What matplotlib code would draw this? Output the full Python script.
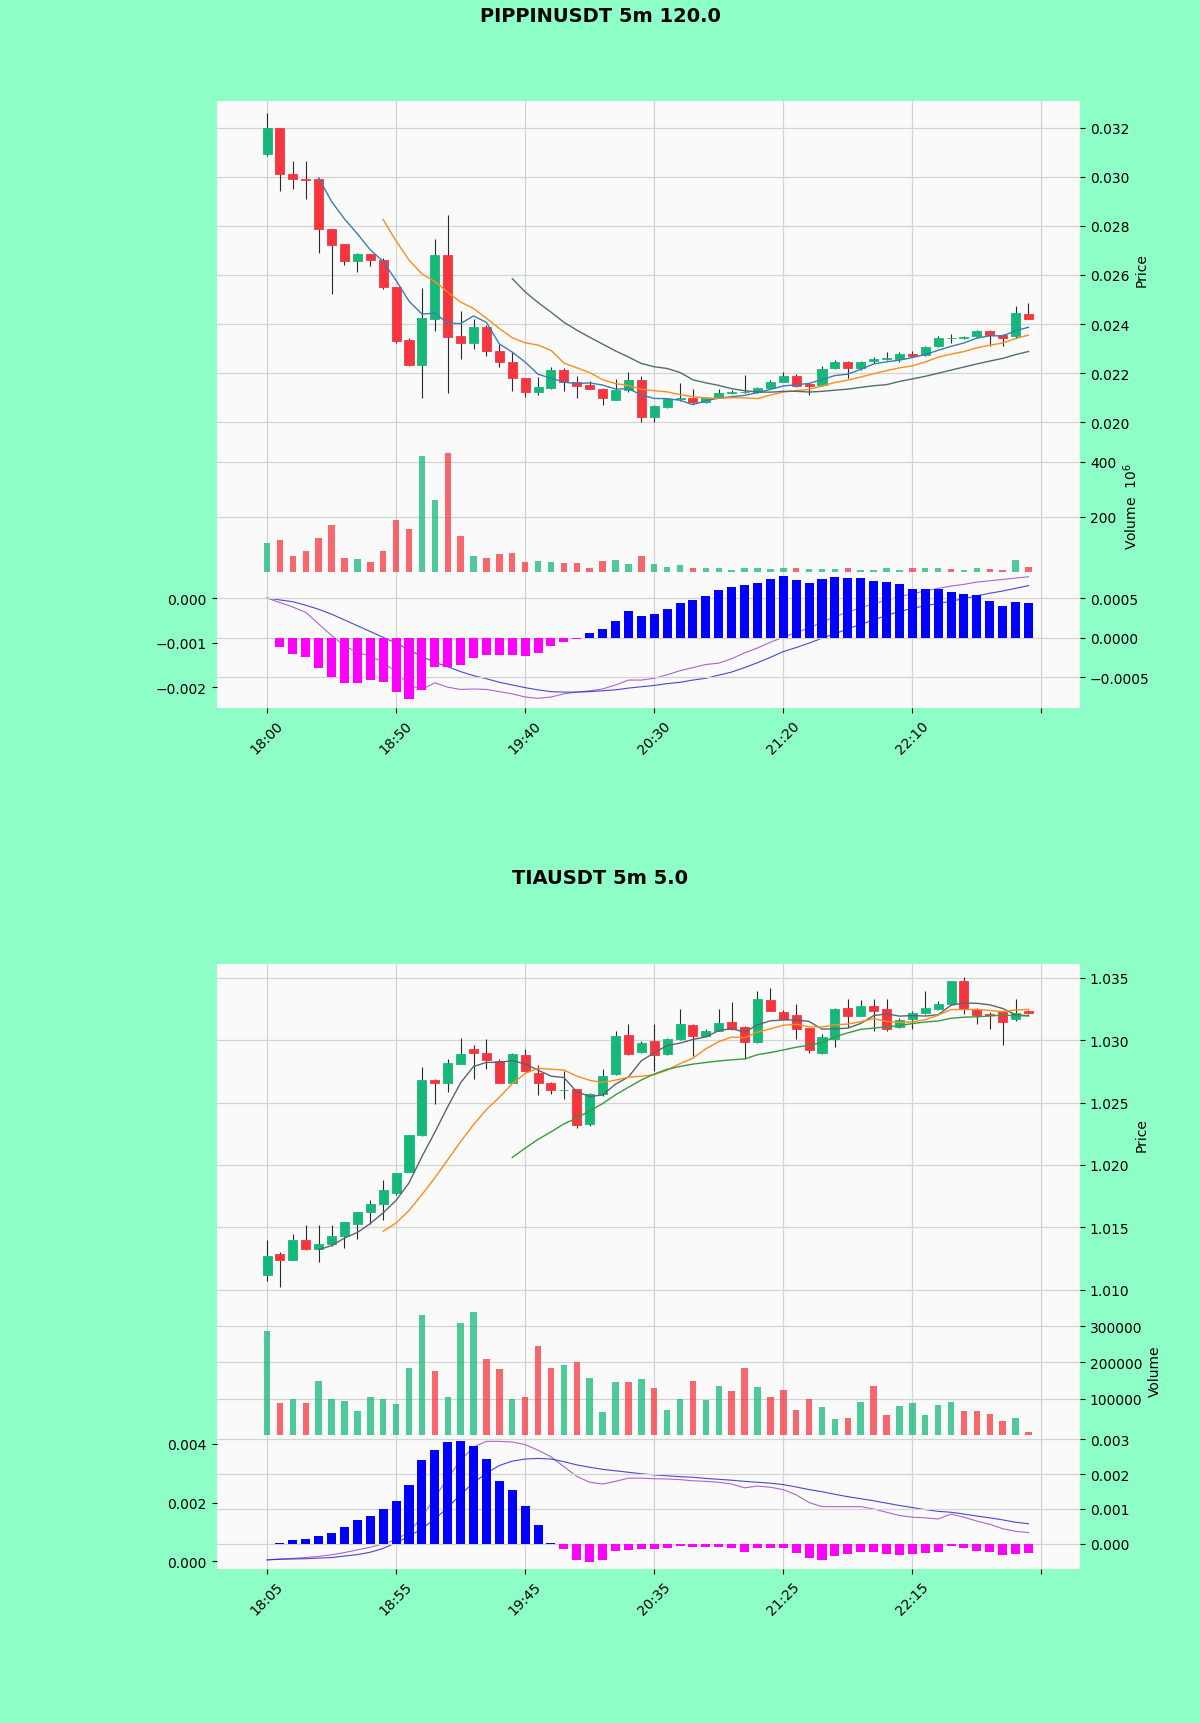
import numpy as np
import pandas as pd
import matplotlib
matplotlib.use('Agg')
import matplotlib.pyplot as plt
from matplotlib.ticker import MultipleLocator, ScalarFormatter

# ---------------- PIPPINUSDT 5m ----------------
pip_title = 'PIPPINUSDT 5m 120.0'
pip_tick_labels = ['18:00', '18:50', '19:40', '20:30', '21:20', '22:10']
pip_open = [0.03092, 0.0320, 0.0301, 0.02992, 0.0299, 0.02787, 0.02725, 0.02658, 0.02685, 0.0266,
            0.02552, 0.02336, 0.02234, 0.0242, 0.02682, 0.02353, 0.02325, 0.0239, 0.02292, 0.02244,
            0.02179, 0.02122, 0.0214, 0.02212, 0.02164, 0.02151, 0.02137, 0.02093, 0.0213, 0.02171,
            0.0202, 0.02062, 0.02095, 0.021, 0.02083, 0.021, 0.0212, 0.02122, 0.02125, 0.02138,
            0.02166, 0.0219, 0.02155, 0.02152, 0.0222, 0.02245, 0.0222, 0.02248, 0.0226, 0.02257,
            0.0228, 0.02276, 0.0231, 0.02342, 0.02343, 0.02351, 0.02372, 0.02355, 0.0235, 0.0244]
pip_high = [0.0326, 0.0320, 0.03065, 0.03065, 0.02995, 0.02787, 0.02725, 0.0269, 0.02685, 0.02671,
            0.02552, 0.02342, 0.02549, 0.02746, 0.02843, 0.02454, 0.0242, 0.02395, 0.02319, 0.02285,
            0.02179, 0.02183, 0.02225, 0.0222, 0.0219, 0.0217, 0.0214, 0.02178, 0.02205, 0.0219,
            0.0207, 0.02098, 0.0216, 0.02135, 0.02102, 0.02135, 0.0213, 0.02192, 0.02145, 0.02172,
            0.02205, 0.02195, 0.02162, 0.02228, 0.02252, 0.02248, 0.02248, 0.02265, 0.02285, 0.02285,
            0.0229, 0.02312, 0.0235, 0.02358, 0.02352, 0.02378, 0.02376, 0.02358, 0.02474, 0.02485]
pip_low = [0.03085, 0.02942, 0.0295, 0.0291, 0.02689, 0.02522, 0.02641, 0.02613, 0.02637, 0.02542,
           0.02325, 0.0223, 0.02098, 0.02373, 0.02119, 0.0226, 0.02298, 0.02271, 0.02224, 0.02129,
           0.02102, 0.0211, 0.02135, 0.02126, 0.02099, 0.02135, 0.0207, 0.0209, 0.02125, 0.02003,
           0.02003, 0.0206, 0.02088, 0.02075, 0.0208, 0.02098, 0.02115, 0.02118, 0.0212, 0.02135,
           0.02163, 0.02145, 0.02113, 0.0215, 0.02218, 0.0218, 0.02215, 0.02243, 0.02255, 0.02245,
           0.02265, 0.0227, 0.02305, 0.02324, 0.02338, 0.02345, 0.0231, 0.0231, 0.02345, 0.0242]
pip_close = [0.0320, 0.0301, 0.0299, 0.02988, 0.02787, 0.02721, 0.02655, 0.02687, 0.02662, 0.02552,
             0.02332, 0.02234, 0.02424, 0.02682, 0.02346, 0.02325, 0.0239, 0.02292, 0.02244, 0.02179,
             0.02122, 0.02142, 0.02212, 0.02164, 0.02148, 0.02137, 0.02099, 0.0213, 0.02171, 0.02021,
             0.02066, 0.02094, 0.02098, 0.02082, 0.021, 0.0212, 0.02122, 0.02125, 0.02138, 0.02166,
             0.0219, 0.02148, 0.0215, 0.02219, 0.02245, 0.0222, 0.02245, 0.0226, 0.02262, 0.0228,
             0.02272, 0.02308, 0.02345, 0.02343, 0.02348, 0.02372, 0.02354, 0.02345, 0.02444, 0.02422]
# volume in millions
pip_volume = [105, 114, 56, 76, 122, 172, 50, 48, 36, 76,
              190, 155, 420, 262, 432, 131, 58, 50, 65, 67,
              35, 38, 35, 33, 33, 15, 38, 44, 27, 58,
              27, 17, 23, 15, 15, 15, 7, 15, 15, 9,
              15, 12, 9, 9, 9, 13, 6, 6, 13, 6,
              15, 13, 13, 9, 6, 15, 9, 6, 44, 17]
pip_macd = [0.0, -0.0001, -0.0002, -0.00032, -0.00058, -0.00084, -0.00107, -0.00122, -0.0013, -0.00144,
            -0.00166, -0.00195, -0.00205, -0.0019, -0.002, -0.00205, -0.00204, -0.00205, -0.0021, -0.00215,
            -0.00222, -0.00225, -0.00222, -0.00215, -0.00211, -0.00208, -0.00204, -0.00195, -0.00184, -0.00184,
            -0.0018, -0.00172, -0.00163, -0.00156, -0.00149, -0.00146, -0.00136, -0.00123, -0.00112, -0.00099,
            -0.00088, -0.00077, -0.00067, -0.00054, -0.00042, -0.00031, -0.00022, -0.00012, -0.00005, 0.00003,
            0.0001, 0.00016, 0.00022, 0.00027, 0.00031, 0.00036, 0.00039, 0.00042, 0.00045, 0.00048]
pip_signal = [0.0, -0.00004, -0.00008, -0.00016, -0.00025, -0.00036, -0.00049, -0.00062, -0.00075, -0.00088,
              -0.00101, -0.00116, -0.00131, -0.00144, -0.00154, -0.00165, -0.00174, -0.00181, -0.00189, -0.00195,
              -0.00201, -0.00206, -0.0021, -0.00211, -0.00211, -0.0021, -0.00208, -0.00206, -0.00202, -0.00199,
              -0.00196, -0.00192, -0.00189, -0.00184, -0.0018, -0.00173, -0.00166, -0.00156, -0.00145, -0.00133,
              -0.0012, -0.00111, -0.00101, -0.0009, -0.0008, -0.00069, -0.00059, -0.00049, -0.00039, -0.0003,
              -0.00023, -0.00017, -0.00012, -0.00007, -0.00001, 0.00005, 0.00011, 0.00016, 0.00022, 0.00028]
pip_hist = [0.0, -0.000115, -0.00021, -0.00024, -0.00038, -0.0005, -0.00057, -0.00057, -0.00054, -0.00056,
            -0.00069, -0.00078, -0.00066, -0.00037, -0.00037, -0.00034, -0.00025, -0.00022, -0.00022, -0.00022,
            -0.00023, -0.00019, -0.00011, -0.00005, -0.00001, 0.00006, 0.00011, 0.00021, 0.00034, 0.00028,
            0.0003, 0.00036, 0.00044, 0.00048, 0.00053, 0.0006, 0.00064, 0.00067, 0.00069, 0.00074,
            0.00078, 0.00073, 0.00069, 0.00074, 0.00077, 0.00075, 0.00075, 0.00072, 0.0007, 0.00068,
            0.00062, 0.00061, 0.00062, 0.00058, 0.00055, 0.00054, 0.00046, 0.0004, 0.00045, 0.00044]

# ---------------- TIAUSDT 5m ----------------
tia_title = 'TIAUSDT 5m 5.0'
tia_tick_labels = ['18:05', '18:55', '19:45', '20:35', '21:25', '22:15']
tia_open = [1.01118, 1.01288, 1.01242, 1.01401, 1.01328, 1.01368, 1.01433, 1.0153, 1.01624, 1.01691,
            1.01772, 1.01946, 1.02237, 1.02677, 1.02659, 1.02812, 1.02927, 1.029, 1.02833, 1.02659,
            1.02882, 1.02739, 1.02653, 1.02598, 1.02605, 1.02325, 1.02565, 1.02726, 1.0304, 1.02901,
            1.02995, 1.02887, 1.03008, 1.03121, 1.03035, 1.03075, 1.03142, 1.03102, 1.02981, 1.03323,
            1.03228, 1.03202, 1.03097, 1.02895, 1.03008, 1.03255, 1.03196, 1.03277, 1.0325, 1.03102,
            1.03169, 1.03215, 1.0325, 1.0329, 1.0347, 1.0325, 1.0321, 1.03223, 1.03169, 1.03237]
tia_high = [1.01395, 1.01301, 1.01449, 1.01516, 1.01516, 1.01516, 1.01545, 1.01624, 1.01723, 1.01879,
            1.01933, 1.02242, 1.02788, 1.0269, 1.02852, 1.03016, 1.0296, 1.03008, 1.02845, 1.029,
            1.02925, 1.02798, 1.02665, 1.02753, 1.0261, 1.0258, 1.02766, 1.03075, 1.03129, 1.0299,
            1.03129, 1.03015, 1.0325, 1.0313, 1.03085, 1.0325, 1.03304, 1.0311, 1.0339, 1.03417,
            1.0324, 1.0329, 1.031, 1.03048, 1.0326, 1.03331, 1.0332, 1.0333, 1.0333, 1.03175,
            1.0323, 1.0339, 1.0331, 1.0347, 1.03505, 1.03255, 1.03223, 1.0323, 1.03331, 1.0324]
tia_low = [1.01073, 1.01019, 1.01235, 1.0132, 1.0122, 1.01352, 1.01336, 1.01409, 1.0153, 1.01556,
           1.0176, 1.0194, 1.0223, 1.02492, 1.02583, 1.02805, 1.02691, 1.0277, 1.02659, 1.02655,
           1.02745, 1.0256, 1.02565, 1.0253, 1.02296, 1.02315, 1.0255, 1.0272, 1.0288, 1.02895,
           1.02753, 1.0288, 1.03, 1.02874, 1.03025, 1.0307, 1.0308, 1.02847, 1.02975, 1.0323,
           1.03162, 1.03008, 1.02895, 1.02888, 1.02948, 1.03102, 1.0319, 1.03075, 1.03075, 1.03095,
           1.03089, 1.0321, 1.03245, 1.03285, 1.0321, 1.03129, 1.03089, 1.0296, 1.03155, 1.03212]
tia_close = [1.01274, 1.01239, 1.01401, 1.01328, 1.01368, 1.01433, 1.01543, 1.01624, 1.01685, 1.01798,
             1.01933, 1.02242, 1.02677, 1.0266, 1.0282, 1.02892, 1.02895, 1.02841, 1.02659, 1.02892,
             1.02753, 1.02653, 1.026, 1.02602, 1.02323, 1.02565, 1.02712, 1.03035, 1.02887, 1.02973,
             1.02882, 1.03008, 1.03129, 1.03035, 1.03075, 1.03134, 1.03089, 1.02981, 1.03331, 1.03237,
             1.03169, 1.03089, 1.02922, 1.03022, 1.0325, 1.03196, 1.03277, 1.03237, 1.03089, 1.03161,
             1.03218, 1.03258, 1.0329, 1.0347, 1.0325, 1.03205, 1.03198, 1.03142, 1.0322, 1.03215]
tia_volume = [288000, 88000, 100000, 88000, 148000, 100000, 94000, 67000, 106000, 100000,
              85000, 185000, 330000, 176000, 106000, 309000, 339000, 209000, 182000, 100000,
              106000, 245000, 185000, 194000, 200000, 158000, 64000, 145000, 145000, 155000,
              130000, 70000, 100000, 148000, 97000, 136000, 121000, 185000, 133000, 106000,
              124000, 70000, 100000, 76000, 45000, 48000, 91000, 136000, 55000, 79000,
              88000, 55000, 82000, 91000, 67000, 67000, 58000, 39000, 48000, 9000]
tia_macd = [0.00005, 0.00008, 0.0001, 0.00013, 0.00017, 0.00022, 0.0003, 0.00039, 0.00048, 0.00059,
            0.00074, 0.001, 0.0015, 0.00217, 0.00283, 0.00344, 0.00389, 0.00408, 0.00408, 0.00406,
            0.00397, 0.00378, 0.00356, 0.00322, 0.00289, 0.00269, 0.00263, 0.00272, 0.00283, 0.00283,
            0.00281, 0.0028, 0.00278, 0.00274, 0.00272, 0.00269, 0.00263, 0.0025, 0.00256, 0.00252,
            0.00244, 0.00226, 0.002, 0.00186, 0.00186, 0.00186, 0.00186, 0.00178, 0.00167, 0.00156,
            0.0015, 0.00148, 0.00144, 0.00161, 0.0015, 0.00137, 0.00126, 0.00111, 0.00102, 0.00098]
tia_signal = [0.00005, 0.00007, 0.00008, 0.00009, 0.00011, 0.00013, 0.00018, 0.00023, 0.00031, 0.00044,
              0.00063, 0.00086, 0.00111, 0.00144, 0.00183, 0.00228, 0.00267, 0.003, 0.00326, 0.00341,
              0.00348, 0.0035, 0.00348, 0.00339, 0.00328, 0.0032, 0.00313, 0.00308, 0.00303, 0.00298,
              0.00294, 0.00291, 0.00288, 0.00286, 0.00282, 0.00279, 0.00276, 0.00272, 0.00269, 0.00266,
              0.00261, 0.00253, 0.00244, 0.00237, 0.00228, 0.0022, 0.00213, 0.00206, 0.00198, 0.0019,
              0.00183, 0.00176, 0.0017, 0.00167, 0.00161, 0.00154, 0.00148, 0.00141, 0.00133, 0.00128]
tia_hist = [0.0, 0.00001, 0.00012, 0.00015, 0.00022, 0.0003, 0.00048, 0.00067, 0.00081, 0.00101,
            0.00124, 0.0017, 0.00241, 0.0027, 0.00293, 0.00295, 0.00281, 0.00244, 0.00181, 0.00155,
            0.00108, 0.00053, 0.00003, -0.00014, -0.00048, -0.00051, -0.00048, -0.00021, -0.00018, -0.00016,
            -0.00014, -0.00013, -0.00007, -0.00009, -0.0001, -0.0001, -0.00013, -0.00023, -0.00011, -0.00011,
            -0.00013, -0.00026, -0.0004, -0.00048, -0.00035, -0.00029, -0.00023, -0.00023, -0.0003, -0.00032,
            -0.00029, -0.00026, -0.00023, -0.00007, -0.00013, -0.00021, -0.00023, -0.00032, -0.00029, -0.00027]

BG = '#8fffc8'
FACE = '#fafafa'
UP = '#16b87a'
DOWN = '#f5363f'
GRID = '#d4d4d4'
MAV = (5, 10, 20)


def style_axes(ax):
    for s in ax.spines.values():
        s.set_visible(False)
    ax.tick_params(labelsize=10, length=3.5, width=0.8)
    ax.set_xlim(-3.9, 63.0)


def draw_chart(fig, title, title_y, boxes, o, h, l, c, vol, macd, signal, hist,
               tick_labels, lims, mav_colors, vol_label, vol_ticks):
    x = np.arange(len(c))
    o = np.array(o)
    c = np.array(c)

    fig.text(0.5, title_y, title, ha='center', va='center', fontsize=14, fontweight='bold')

    # price panel
    ax_p = fig.add_axes(boxes[0], facecolor=FACE)
    style_axes(ax_p)
    ax_p.grid(True, color=GRID, linewidth=0.9)
    ax_p.set_axisbelow(True)
    colors = np.where(c >= o, UP, DOWN)
    ax_p.vlines(x, l, h, color='#2a2a2a', linewidth=0.8, zorder=2)
    ax_p.bar(x, np.abs(c - o), bottom=np.minimum(o, c), width=0.7, color=colors,
             edgecolor=colors, linewidth=0.6, zorder=3)
    closes = pd.Series(c)
    for n, col in zip(MAV, mav_colors):
        ax_p.plot(x, closes.rolling(n).mean(), color=col, linewidth=1.0, zorder=4)
    ax_p.set_ylim(*lims[0])
    ax_p.yaxis.set_major_locator(MultipleLocator(lims[1]))
    fmt = ScalarFormatter(useOffset=False)
    ax_p.yaxis.set_major_formatter(fmt)
    ax_p.yaxis.tick_right()
    ax_p.yaxis.set_label_position('right')
    ax_p.set_ylabel('Price', fontsize=10)
    ax_p.tick_params(axis='x', length=0, labelbottom=False)
    ax_p.set_xticks(range(0, 61, 10))

    # volume panel
    ax_v = fig.add_axes(boxes[1], facecolor=FACE)
    style_axes(ax_v)
    ax_v.grid(True, color=GRID, linewidth=0.9)
    ax_v.set_axisbelow(True)
    prev = np.concatenate([[c[0]], c[:-1]])
    vcolors = np.where(c >= prev, UP, DOWN)
    ax_v.bar(x, vol, width=0.5, color=vcolors, alpha=0.75, zorder=3)
    ax_v.set_ylim(*lims[2])
    ax_v.set_yticks(vol_ticks)
    ax_v.yaxis.tick_right()
    ax_v.yaxis.set_label_position('right')
    ax_v.set_ylabel(vol_label, fontsize=10)
    ax_v.tick_params(axis='x', length=0, labelbottom=False)
    ax_v.set_xticks(range(0, 61, 10))

    # macd panel
    ax_m = fig.add_axes(boxes[2], facecolor=FACE)
    style_axes(ax_m)
    ax_m.grid(True, axis='x', color=GRID, linewidth=0.9)
    ax_m.set_axisbelow(True)
    ax_m.plot(x, macd, color='#a04ac8', linewidth=0.8, alpha=0.85)
    ax_m.plot(x, signal, color='#2a2ac8', linewidth=0.8, alpha=0.85)
    ax_m.set_ylim(*lims[3])
    ax_m.yaxis.set_major_locator(MultipleLocator(lims[4]))
    ax_m.set_xticks(range(0, 61, 10))
    ax_m.set_xticklabels(tick_labels + [''], rotation=45, ha='center')

    ax_h = ax_m.twinx()
    for s in ax_h.spines.values():
        s.set_visible(False)
    ax_h.grid(True, axis='y', color=GRID, linewidth=0.9)
    hist = np.array(hist)
    hcolors = np.where(hist >= 0, '#0000ff', '#ff00ff')
    ax_h.bar(x, hist, width=0.7, color=hcolors, zorder=3)
    ax_h.set_ylim(*lims[5])
    ax_h.yaxis.set_major_locator(MultipleLocator(lims[6]))
    ax_h.tick_params(labelsize=10, length=3.5, width=0.8)
    ax_h.set_xlim(-3.9, 63.0)


fig = plt.figure(figsize=(12, 17.24), dpi=100, facecolor=BG)

L, W = 0.1806, 0.7195
draw_chart(fig, pip_title, 0.9904,
           [[L, 0.7455, W, 0.1952], [L, 0.6665, W, 0.0790], [L, 0.5887, W, 0.0778]],
           pip_open, pip_high, pip_low, pip_close, pip_volume, pip_macd, pip_signal, pip_hist,
           pip_tick_labels,
           [(0.019373, 0.033075), 0.002, (-8, 488), (-0.002469, 0.000543), 0.001,
            (-0.000889, 0.000806), 0.0005],
           ['#3a7db0', '#ff8c1a', '#4f6f6f'], 'Volume  $10^{6}$', [200, 400])

draw_chart(fig, tia_title, 0.4904,
           [[L, 0.2436, W, 0.1964], [L, 0.1658, W, 0.0778], [L, 0.0893, W, 0.0765]],
           tia_open, tia_high, tia_low, tia_close, tia_volume, tia_macd, tia_signal, tia_hist,
           tia_tick_labels,
           [(1.00894, 1.03606), 0.005, (-6000, 364000), (-0.000262, 0.004224), 0.002,
            (-0.000726, 0.00306), 0.001],
           ['#5a6470', '#ff8c1a', '#3a9a3a'], 'Volume', [100000, 200000, 300000])

fig.savefig('out.png', dpi=100, facecolor=BG)
